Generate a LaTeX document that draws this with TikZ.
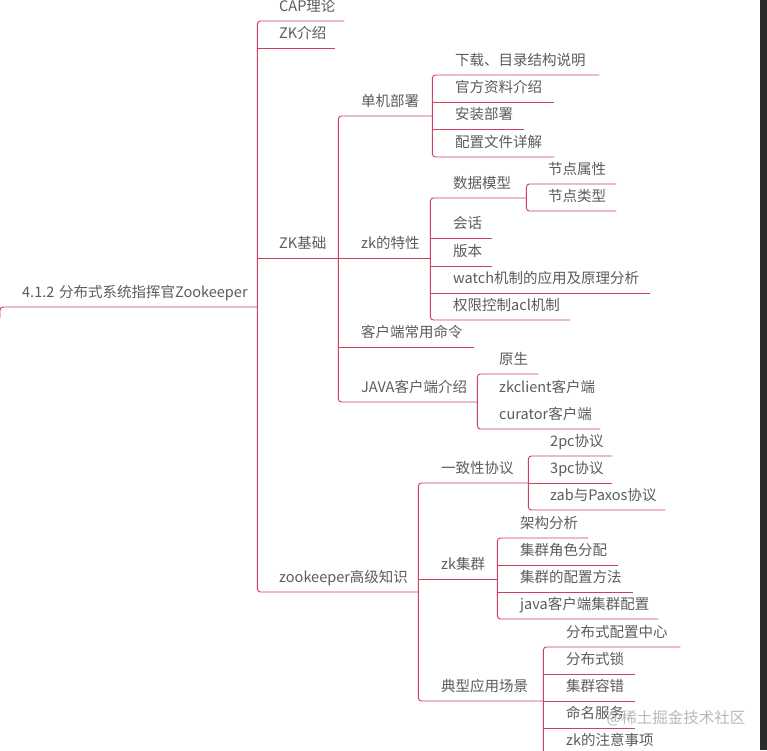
\documentclass[tikz,border=0pt]{standalone}
\usepackage{fontspec}
\setmainfont{Noto Sans CJK SC}
\definecolor{mapred}{RGB}{204,66,94}
\definecolor{maptext}{RGB}{92,92,92}
\definecolor{sidebar}{RGB}{43,43,43}

\begin{document}
\begin{tikzpicture}[x=1pt, y=-1pt,
    topic/.style={anchor=south west, inner sep=0pt, align=left, text height=12pt, text depth=9pt,
      text=maptext, font=\fontsize{14.5}{16}\selectfont},
    branch/.style={draw=mapred, line width=0.95pt, rounded corners=3pt}]
    \fill[white] (0,0) rectangle (767,750);
    \useasboundingbox (0,0) rectangle (767,750);
    \fill[sidebar] (760,0) rectangle (767,750);

    % root and first level
    \coordinate (edge) at (0,318);
    \node[topic, text width=235pt] (root) at (22,307) {4.1.2 分布式系统指挥官Zookeeper};
    \node[topic, text width=65pt] (cap) at (279,21) {CAP理论};
    \node[topic, text width=56pt] (zkintro) at (279,48) {ZK介绍};
    \node[topic, text width=59pt] (zkbase) at (279,258) {ZK基础};
    \node[topic, text width=139pt] (zkadv) at (279,592) {zookeeper高级知识};
    \draw[branch] (edge) |- (root.south east);
    \draw[branch] (cap.south east) -- (root.south east |- cap.south) -- (root.south east |- zkadv.south) -- (zkadv.south east);
    \draw[branch] (root.south east |- zkintro.south) -- (zkintro.south east);
    \draw[branch] (root.south east |- zkbase.south) -- (zkbase.south east);

    % ZK基础
    \node[topic, text width=71pt] (single) at (361,116) {单机部署};
    \node[topic, text width=69pt] (feat) at (361,258) {zk的特性};
    \node[topic, text width=113pt] (cmd) at (361,347) {客户端常用命令};
    \node[topic, text width=116pt] (javacli) at (361,402) {JAVA客户端介绍};
    \draw[branch] (single.south east) -- (zkbase.south east |- single.south) -- (zkbase.south east |- javacli.south) -- (javacli.south east);
    \draw[branch] (zkbase.south east |- feat.south) -- (feat.south east);
    \draw[branch] (zkbase.south east |- cmd.south) -- (cmd.south east);

    % 单机部署
    \node[topic, text width=144pt] (dl) at (455,75) {下载、目录结构说明};
    \node[topic, text width=99pt] (docs) at (455,102) {官方资料介绍};
    \node[topic, text width=69pt] (install) at (455,129) {安装部署};
    \node[topic, text width=99pt] (conf) at (455,157) {配置文件详解};
    \draw[branch] (dl.south east) -- (single.south east |- dl.south) -- (single.south east |- conf.south) -- (conf.south east);
    \draw[branch] (single.south east |- docs.south) -- (docs.south east);
    \draw[branch] (single.south east |- install.south) -- (install.south east);

    % zk的特性
    \node[topic, text width=73pt] (model) at (453,198) {数据模型};
    \node[topic, text width=39pt] (sess) at (453,238) {会话};
    \node[topic, text width=39pt] (ver) at (453,266) {版本};
    \node[topic, text width=197pt] (watch) at (453,293) {watch机制的应用及原理分析};
    \node[topic, text width=117pt] (acl) at (453,320) {权限控制acl机制};
    \draw[branch] (model.south east) -- (feat.south east |- model.south) -- (feat.south east |- acl.south) -- (acl.south east);
    \draw[branch] (feat.south east |- sess.south) -- (sess.south east);
    \draw[branch] (feat.south east |- ver.south) -- (ver.south east);
    \draw[branch] (feat.south east |- watch.south) -- (watch.south east);

    \node[topic, text width=68pt] (nattr) at (548,184) {节点属性};
    \node[topic, text width=68pt] (ntype) at (548,211) {节点类型};
    \draw[branch] (nattr.south east) -- (model.south east |- nattr.south) -- (model.south east |- ntype.south) -- (ntype.south east);

    % JAVA客户端介绍
    \node[topic, text width=39pt] (native) at (499,374) {原生};
    \node[topic, text width=101pt] (zkc) at (499,402) {zkclient客户端};
    \node[topic, text width=101pt] (curator) at (499,429) {curator客户端};
    \draw[branch] (native.south east) -- (javacli.south east |- native.south) -- (javacli.south east |- curator.south) -- (curator.south east);

    % zookeeper高级知识
    \node[topic, text width=87pt] (cons) at (441,483) {一致性协议};
    \node[topic, text width=56pt] (cluster) at (441,579) {zk集群};
    \node[topic, text width=102pt] (scene) at (441,701) {典型应用场景};
    \draw[branch] (cons.south east) -- (zkadv.south east |- cons.south) -- (zkadv.south east |- scene.south) -- (scene.south east);
    \draw[branch] (zkadv.south east |- cluster.south) -- (cluster.south east);

    \node[topic, text width=62pt] (pc2) at (550,456) {2pc协议};
    \node[topic, text width=62pt] (pc3) at (550,483) {3pc协议};
    \node[topic, text width=115pt] (zab) at (550,510) {zab与Paxos协议};
    \draw[branch] (pc2.south east) -- (cons.south east |- pc2.south) -- (cons.south east |- zab.south) -- (zab.south east);
    \draw[branch] (cons.south east |- pc3.south) -- (pc3.south east);

    \node[topic, text width=68pt] (arch) at (520,538) {架构分析};
    \node[topic, text width=98pt] (role) at (520,565) {集群角色分配};
    \node[topic, text width=113pt] (cconf) at (520,592) {集群的配置方法};
    \node[topic, text width=138pt] (jcc) at (520,619) {java客户端集群配置};
    \draw[branch] (arch.south east) -- (cluster.south east |- arch.south) -- (cluster.south east |- jcc.south) -- (jcc.south east);
    \draw[branch] (cluster.south east |- role.south) -- (role.south east);
    \draw[branch] (cluster.south east |- cconf.south) -- (cconf.south east);

    \node[topic, text width=114pt] (center) at (566,647) {分布式配置中心};
    \node[topic, text width=69pt] (lock) at (566,674) {分布式锁};
    \node[topic, text width=69pt] (fault) at (566,701) {集群容错};
    \node[topic, text width=69pt] (naming) at (566,728) {命名服务};
    \node[topic, text width=102pt] (notes) at (566,755) {zk的注意事项};
    \draw[branch] (center.south east) -- (scene.south east |- center.south) -- (scene.south east |- notes.south) -- (notes.south east);
    \draw[branch] (scene.south east |- lock.south) -- (lock.south east);
    \draw[branch] (scene.south east |- fault.south) -- (fault.south east);
    \draw[branch] (scene.south east |- naming.south) -- (naming.south east);

    \node[text=gray!55, font=\fontsize{15.5}{17}\selectfont, inner sep=0pt] (mark) at (676,718) {@稀土掘金技术社区};
\end{tikzpicture}
\end{document}
